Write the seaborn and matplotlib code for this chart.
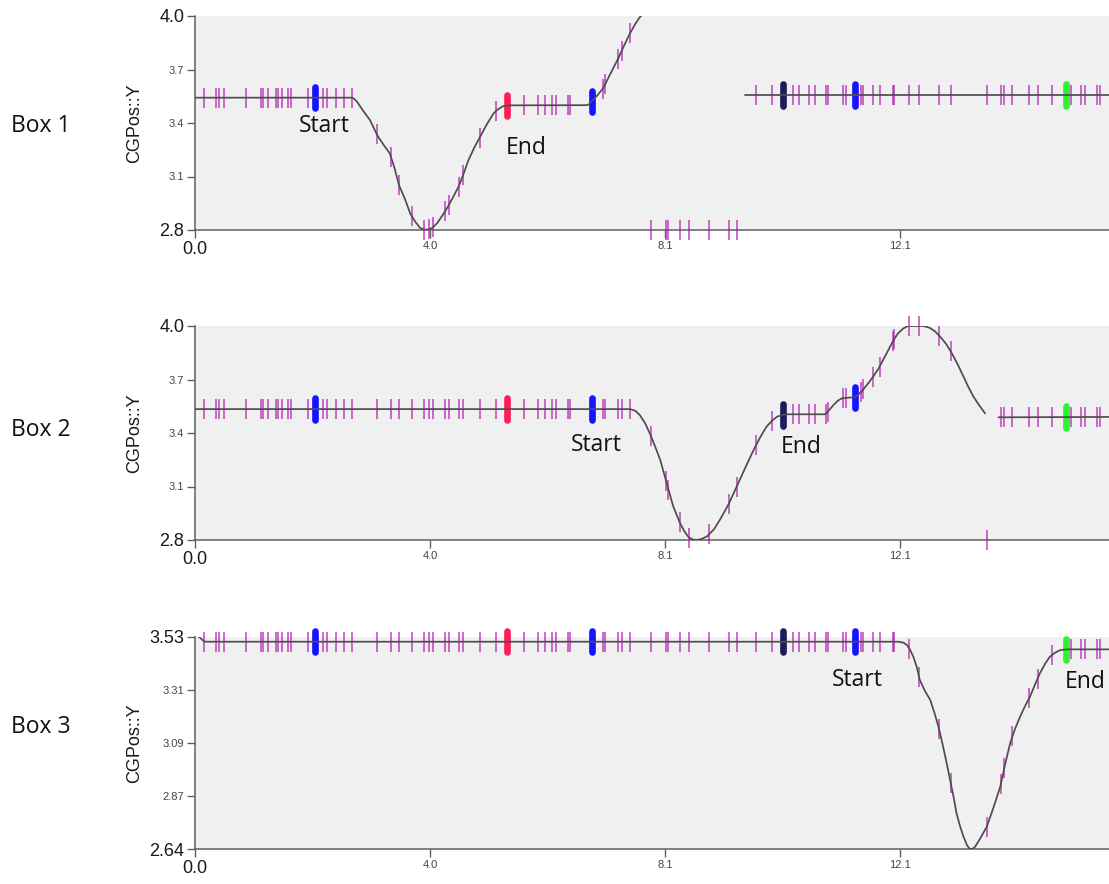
import numpy as np
import pandas as pd
import matplotlib
matplotlib.use("Agg")
import matplotlib.pyplot as plt
import seaborn as sns

# ---------------- data ----------------
event_x = [0.16, 0.36, 0.42, 0.50, 0.87, 1.13, 1.17, 1.26, 1.39, 1.43, 1.50, 1.59,
           1.65, 1.94, 2.19, 2.26, 2.42, 2.55, 2.69, 3.12, 3.36, 3.50, 3.72, 3.93,
           4.02, 4.08, 4.29, 4.35, 4.52, 4.60, 4.88, 5.16, 5.64, 5.89, 6.01, 6.13,
           6.19, 6.39, 6.43, 6.99, 7.04, 7.25, 7.32, 7.46, 7.82, 8.08, 8.12, 8.31,
           8.48, 8.82, 9.15, 9.29, 9.62, 9.89, 10.26, 10.36, 10.53, 10.63, 10.82,
           10.85, 11.11, 11.16, 11.42, 11.46, 11.62, 11.74, 11.97, 11.99, 12.25,
           12.42, 12.76, 12.96, 13.58, 13.82, 13.88, 14.02, 14.31, 14.45, 14.70,
           15.02, 15.19, 15.27, 15.47, 15.52]

marker_x = [2.06, 5.35, 6.80, 10.09, 11.32, 14.94]
marker_kind = ["blue", "red", "blue", "navy", "blue", "green"]

# Box 1 curve (two segments)
p1a_x = [0.0, 2.69, 2.73, 2.78, 2.88, 3.00, 3.13, 3.24, 3.34, 3.42, 3.50, 3.60, 3.69,
         3.78, 3.86, 3.93, 4.00, 4.07, 4.15, 4.23, 4.32, 4.42, 4.52, 4.60, 4.69, 4.79,
         4.89, 5.00, 5.12, 5.20, 5.29, 5.40, 6.72, 6.76, 6.81, 6.90, 7.00, 7.13, 7.26,
         7.36, 7.46, 7.55, 7.62, 7.69, 7.76]
p1a_y = [3.542, 3.542, 3.536, 3.519, 3.470, 3.417, 3.329, 3.275, 3.230, 3.150, 3.050,
         2.975, 2.893, 2.845, 2.812, 2.802, 2.802, 2.812, 2.837, 2.875, 2.921, 2.980,
         3.043, 3.110, 3.192, 3.262, 3.323, 3.390, 3.454, 3.478, 3.495, 3.499, 3.500,
         3.506, 3.525, 3.555, 3.595, 3.680, 3.763, 3.835, 3.903, 3.955, 3.990, 4.015,
         4.040]
p1b_x = [9.43, 15.68]
p1b_y = [3.557, 3.557]

# Box 2 curve (two segments)
p2a_x = [0.0, 7.46, 7.55, 7.63, 7.72, 7.80, 7.89, 7.98, 8.09, 8.20, 8.32, 8.40, 8.46,
         8.53, 8.60, 8.68, 8.78, 8.90, 9.00, 9.15, 9.29, 9.43, 9.58, 9.70, 9.80, 9.90,
         9.98, 10.06, 10.15, 10.81, 10.88, 10.95, 11.02, 11.09, 11.20, 11.32, 11.43,
         11.53, 11.63, 11.72, 11.80, 11.89, 11.98, 12.06, 12.15, 12.23, 12.49, 12.60,
         12.69, 12.78, 12.88, 12.98, 13.08, 13.18, 13.26, 13.35, 13.45, 13.55]
p2a_y = [3.534, 3.534, 3.525, 3.500, 3.455, 3.398, 3.325, 3.248, 3.118, 2.990, 2.893,
         2.845, 2.818, 2.803, 2.800, 2.805, 2.820, 2.860, 2.912, 3.000, 3.099, 3.200,
         3.305, 3.380, 3.435, 3.470, 3.491, 3.500, 3.505, 3.505, 3.530, 3.557, 3.580,
         3.594, 3.598, 3.600, 3.632, 3.672, 3.716, 3.760, 3.809, 3.865, 3.921, 3.960,
         3.987, 4.000, 4.000, 3.990, 3.970, 3.940, 3.900, 3.847, 3.785, 3.716, 3.660,
         3.604, 3.555, 3.510]
p2b_x = [13.78, 15.68]
p2b_y = [3.488, 3.490]

# Box 3 curve (one segment)
p3_x = [0.0, 0.08, 0.16, 12.06, 12.15, 12.21, 12.26, 12.32, 12.38, 12.43, 12.52, 12.61,
        12.68, 12.75, 12.83, 12.89, 12.95, 13.01, 13.06, 13.12, 13.18, 13.24, 13.29,
        13.34, 13.38, 13.47, 13.58, 13.69, 13.81, 13.89, 13.98, 14.06, 14.15, 14.23,
        14.32, 14.41, 14.49, 14.58, 14.66, 14.75, 14.84, 14.95, 15.68]
p3_y = [3.545, 3.530, 3.512, 3.512, 3.508, 3.498, 3.480, 3.449, 3.405, 3.352, 3.305,
        3.268, 3.215, 3.157, 3.073, 3.005, 2.933, 2.862, 2.794, 2.740, 2.696, 2.660,
        2.643, 2.646, 2.654, 2.690, 2.738, 2.815, 2.905, 2.995, 3.087, 3.145, 3.198,
        3.240, 3.282, 3.335, 3.380, 3.420, 3.449, 3.466, 3.477, 3.480, 3.480]

x_ticks = [0.0, 4.03, 8.06, 12.09]
x_tick_labels = ["0.0", "4.0", "8.1", "12.1"]
x_range = [0.0, 15.675]

p12_yticks = [2.8, 3.1, 3.4, 3.7, 4.0]
p12_ytick_labels = ["2.8", "3.1", "3.4", "3.7", "4.0"]
p3_yticks = [2.643, 2.8655, 3.088, 3.3105, 3.533]
p3_ytick_labels = ["2.64", "2.87", "3.09", "3.31", "3.53"]

box_labels = ["Box 1", "Box 2", "Box 3"]
y_label = "CGPos::Y"

# annotations: (text, x, y)
ann_p1 = [("Start", 2.21, 3.383), ("End", 5.68, 3.260)]
ann_p2 = [("Start", 6.88, 3.333), ("End", 10.39, 3.321)]
ann_p3 = [("Start", 11.35, 3.352), ("End", 15.26, 3.343)]

# ---------------- styling ----------------
sns.set_theme(style="white")
plt.rcParams["font.family"] = ["Liberation Sans", "DejaVu Sans"]

W, H = 1109, 884
fig = plt.figure(figsize=(W / 100, H / 100), dpi=100)
fig.patch.set_facecolor("white")

left_px = 195
panel_px = [(16, 230), (326, 540), (636.7, 849.3)]
label_y_px = [126, 430, 727]

marker_palette = {"blue": "#1414ff", "red": "#ff1f58", "navy": "#1b1b5e",
                  "green": "#2ff22f"}

panels = [
    dict(segs=[(p1a_x, p1a_y), (p1b_x, p1b_y)], ylim=(2.8, 4.0),
         yt=p12_yticks, ytl=p12_ytick_labels, ann=ann_p1),
    dict(segs=[(p2a_x, p2a_y), (p2b_x, p2b_y)], ylim=(2.8, 4.0),
         yt=p12_yticks, ytl=p12_ytick_labels, ann=ann_p2),
    dict(segs=[(p3_x, p3_y)], ylim=(2.643, 3.533),
         yt=p3_yticks, ytl=p3_ytick_labels, ann=ann_p3),
]


def on_curve(xs, segs, ymin):
    out = []
    for x in xs:
        y = ymin
        for sx, sy in segs:
            if sx[0] <= x <= sx[-1]:
                y = float(np.interp(x, sx, sy))
                break
        out.append(y)
    return out


spine_col = "#5f5f5f"
for i, p in enumerate(panels):
    top, bot = panel_px[i]
    ax = fig.add_axes([left_px / W, 1 - bot / H, (W - left_px) / W, (bot - top) / H])
    ax.set_facecolor("#f0f0f0")
    ax.set_xlim(*x_range)
    ax.set_ylim(*p["ylim"])

    # curve
    rows = []
    for k, (sx, sy) in enumerate(p["segs"]):
        for x, y in zip(sx, sy):
            rows.append({"x": x, "y": y, "seg": k})
    cdf = pd.DataFrame(rows)
    sns.lineplot(data=cdf, x="x", y="y", units="seg", estimator=None, sort=False,
                 color="#4d4d4d", linewidth=1.25, ax=ax, legend=False, zorder=4)

    # event ticks
    ty = on_curve(event_x, p["segs"], p["ylim"][0])
    sns.scatterplot(x=event_x, y=ty, marker="|", s=210, linewidth=1.2,
                    color="#b010b0", alpha=0.72, clip_on=False, ax=ax,
                    legend=False, zorder=3)

    # colored highlight markers
    my = on_curve(marker_x, p["segs"], p["ylim"][0])
    mdf = pd.DataFrame({"x": marker_x, "y": my, "kind": marker_kind})
    sns.scatterplot(data=mdf, x="x", y="y", hue="kind", palette=marker_palette,
                    marker="|", s=240, linewidth=4.8, capstyle="round",
                    clip_on=False, ax=ax, legend=False, zorder=3.5)

    # annotations
    for txt, ax_x, ax_y in p["ann"]:
        ax.text(ax_x, ax_y, txt, ha="center", va="center", fontsize=16.5,
                family=["Open Sans", "DejaVu Sans"], color="#111111", zorder=6)

    # axes styling
    for s in ["top", "right"]:
        ax.spines[s].set_visible(False)
    for s in ["left", "bottom"]:
        ax.spines[s].set_color(spine_col)
        ax.spines[s].set_linewidth(1.1)
    ax.set_xticks(x_ticks)
    ax.set_xticklabels(x_tick_labels)
    ax.set_yticks(p["yt"])
    ax.set_yticklabels(p["ytl"])
    ax.tick_params(axis="both", direction="out", length=5.8, width=1.0,
                   color=spine_col, pad=2, bottom=True, left=True)
    ax.set_xlabel("")
    ax.set_ylabel("")
    xl = ax.get_xticklabels()
    for j, lbl in enumerate(xl):
        if j == 0:
            lbl.set_fontsize(13)
            lbl.set_color("#1a1a1a")
        else:
            lbl.set_fontsize(8)
            lbl.set_color("#444444")
    yl = ax.get_yticklabels()
    for j, lbl in enumerate(yl):
        if j == 0 or j == len(yl) - 1:
            lbl.set_fontsize(13)
            lbl.set_color("#1a1a1a")
        else:
            lbl.set_fontsize(8)
            lbl.set_color("#444444")

    # y axis title and row label
    fig.text(135 / W, 1 - (top + bot) / 2 / H, y_label, rotation=90, ha="center",
             va="center", fontsize=13, color="#1a1a1a")
    fig.text(41 / W, 1 - label_y_px[i] / H, box_labels[i], ha="center", va="center",
             fontsize=16.5, family=["Open Sans", "DejaVu Sans"], color="#111111")

fig.savefig("out.png", dpi=100, facecolor="white")
